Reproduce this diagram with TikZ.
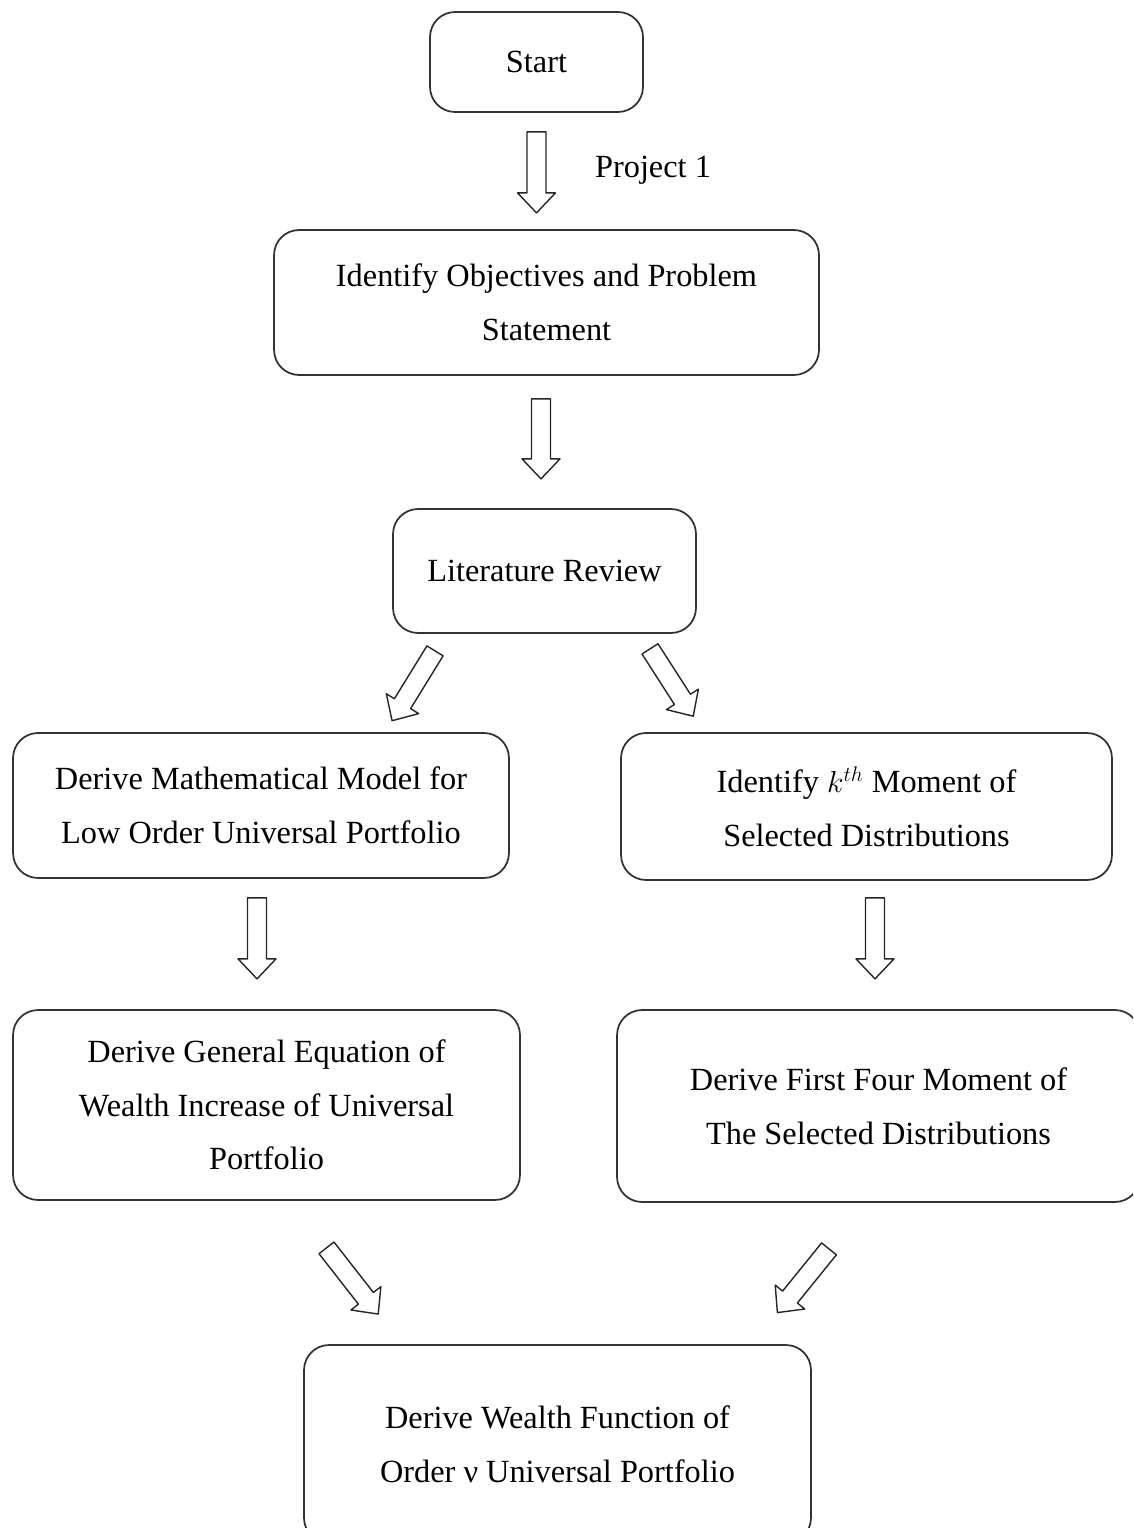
\documentclass[tikz,border=0pt]{standalone}
\usepackage{fontspec}
\setmainfont{Liberation Serif}
\usetikzlibrary{calc}
\newcommand{\blockarrow}[3]{%
  % #1 = tail coordinate, #2 = direction angle, #3 = length (px)
  \begin{scope}[shift=(#1), rotate=#2]
    \draw[blockline] (0,-9.5) -- (#3-20,-9.5) -- (#3-20,-19) -- (#3,0)
      -- (#3-20,19) -- (#3-20,9.5) -- (0,9.5) -- cycle;
  \end{scope}
}

\begin{document}
\begin{tikzpicture}[x=0.02cm, y=-0.02cm, line join=round,
  flowbox/.style={draw=black!80, line width=1pt, rounded corners=0.5cm, inner sep=0pt,
    align=center, font=\fontsize{18.4}{30.6}\selectfont},
  blockline/.style={draw=black!85, line width=0.8pt, fill=white},
  plain/.style={font=\fontsize{18.4}{30.6}\selectfont}]

% page frame: picture is cut at the right and bottom edges
\useasboundingbox (0,0) rectangle (1133,1528);
\clip (0,0) rectangle (1133,1528);

% ============ BOXES ============
\node[flowbox, minimum width=4.26cm, minimum height=2cm] (start) at (536.5,62) {Start};
\node[flowbox, minimum width=10.9cm, minimum height=2.9cm] (objectives) at (546.5,302.5)
  {Identify Objectives and Problem\\Statement};
\node[flowbox, minimum width=6.06cm, minimum height=2.48cm] (litreview) at (544.5,571) {Literature Review};
\node[flowbox, minimum width=9.92cm, minimum height=2.9cm] (model) at (261,805.5)
  {Derive Mathematical Model for\\Low Order Universal Portfolio};
\node[flowbox, minimum width=9.82cm, minimum height=2.94cm] (moment) at (866.5,806.5)
  {Identify $k^{th}$ Moment of\\Selected Distributions};
\node[flowbox, minimum width=10.14cm, minimum height=3.8cm] (general) at (266.5,1105)
  {Derive General Equation of\\Wealth Increase of Universal\\Portfolio};
\node[flowbox, minimum width=10.46cm, minimum height=3.84cm] (fourmoment) at (878.5,1106)
  {Derive First Four Moment of\\The Selected Distributions};
\node[flowbox, minimum width=10.14cm, minimum height=3.96cm] (wealthfn) at (557.5,1444)
  {Derive Wealth Function of\\Order ν Universal Portfolio};

\node[plain] (proj) at (653,170) {Project 1};

% ============ BLOCK ARROWS (tails hung off the box anchors) ============
\coordinate (a1) at ($(start.south)+(0,19)$);
\coordinate (a2) at ($(objectives.south)+(-5.5,23)$);
\coordinate (a3) at ($(litreview.south)+(-109.5,17)$);
\coordinate (a4) at ($(litreview.south)+(105.5,15)$);
\coordinate (a5) at ($(model.south)+(-4,19)$);
\coordinate (a6) at ($(moment.south)+(8.5,17)$);
\coordinate (a7) at ($(general.south)+(60,47)$);
\coordinate (a8) at ($(fourmoment.south)+(-49.5,46)$);

\blockarrow{a1}{-90}{81}
\blockarrow{a2}{-90}{80}
\blockarrow{a3}{-121.6}{82}
\blockarrow{a4}{-57.3}{80}
\blockarrow{a5}{-90}{81}
\blockarrow{a6}{-90}{81}
\blockarrow{a7}{-52}{84}
\blockarrow{a8}{-129}{82}
\end{tikzpicture}
\end{document}
